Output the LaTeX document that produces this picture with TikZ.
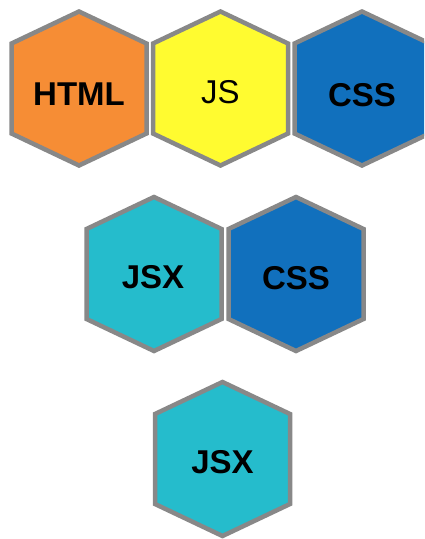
\documentclass[tikz,border=0pt]{standalone}
\usepackage{fontspec}
\setmainfont{Liberation Sans}
\definecolor{hexgray}{HTML}{888888}
\definecolor{horange}{HTML}{F68D35}
\definecolor{hyellow}{HTML}{FFFB30}
\definecolor{hblue}{HTML}{1170BD}
\definecolor{hcyan}{HTML}{25BCCC}
\tikzset{
  hexline/.style={draw=hexgray, line width=4.5pt, line join=miter},
  hexlabel/.style={font=\fontsize{33}{33}\selectfont, inner sep=0pt},
  boldlabel/.style={font=\fontsize{33}{33}\selectfont\bfseries, inner sep=0pt},
  pics/hexa/.style={code={
    \path[hexline, fill=#1] (0,77) -- (67.5,45) -- (67.5,-45) -- (0,-77) -- (-67.5,-45) -- (-67.5,45) -- cycle;
  }}
}
\begin{document}
\begin{tikzpicture}[x=1pt,y=1pt]
\useasboundingbox (0,0) rectangle (424,-539);
\clip (0,0) rectangle (424,-539);
\fill[white] (0,0) rectangle (424,-539);
% row 1
\pic at (79,-88.5) {hexa=horange};
\node[boldlabel] (html) at (79,-94) {HTML};
\pic at (220.5,-88.5) {hexa=hyellow};
\node[hexlabel] (js) at (220.5,-92) {JS};
\pic at (362,-88.5) {hexa=hblue};
\node[boldlabel] (css1) at (362,-95) {CSS};
% row 2
\pic at (154,-274) {hexa=hcyan};
\node[boldlabel] (jsx1) at (153,-277) {JSX};
\pic at (296,-274) {hexa=hblue};
\node[boldlabel] (css2) at (296,-278) {CSS};
% row 3
\pic at (222.5,-459) {hexa=hcyan};
\node[boldlabel] (jsx2) at (222.5,-462) {JSX};
\end{tikzpicture}
\end{document}
